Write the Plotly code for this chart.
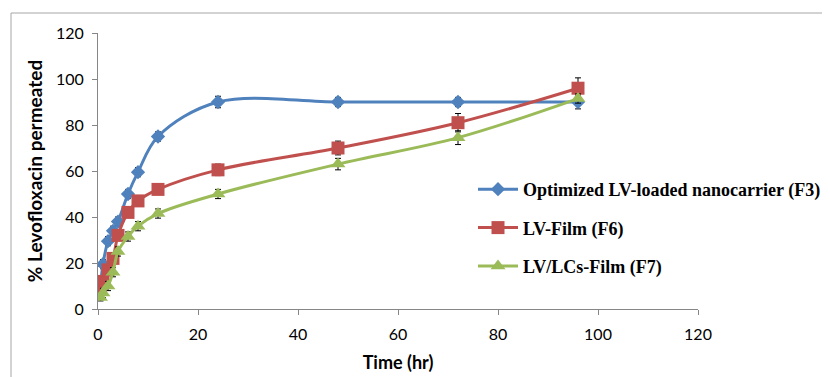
import plotly.graph_objects as go

time_hr = [0.5, 1, 2, 3, 4, 6, 8, 12, 24, 48, 72, 96]
f3_values = [10, 19.5, 29.5, 34, 38, 50, 59.5, 75, 90, 90, 90, 90]
f3_err = [2, 2, 2, 2, 2, 2, 2, 2, 2.5, 2, 2, 3]
f6_values = [9, 12, 17, 22, 32, 42, 47, 52, 60.5, 70, 81, 96]
f6_err = [2, 2, 2, 2, 2, 2, 2, 2, 2.5, 3, 4, 4.5]
f7_values = [5, 7, 10, 16, 25, 31.5, 36, 41.5, 50, 63, 74.5, 91.5]
f7_err = [1.5, 2, 2, 2, 2, 2, 2, 2, 2, 2.5, 3, 2]

series_names = ["Optimized LV-loaded nanocarrier (F3)", "LV-Film (F6)", "LV/LCs-Film (F7)"]
x_ticks = [0, 20, 40, 60, 80, 100, 120]
y_ticks = [0, 20, 40, 60, 80, 100, 120]

colors = ["#4F81BD", "#C0504D", "#9BBB59"]
symbols = ["diamond", "square", "triangle-up"]
sizes = [11, 13, 13]

fig = go.Figure()
for i, (vals, errs) in enumerate([(f3_values, f3_err), (f6_values, f6_err), (f7_values, f7_err)]):
    fig.add_trace(go.Scatter(
        x=time_hr, y=vals, name=series_names[i], mode="lines+markers",
        line=dict(color=colors[i], width=3, shape="spline", smoothing=1),
        marker=dict(symbol=symbols[i], size=sizes[i], color=colors[i]),
        error_y=dict(type="data", array=errs, visible=True, color="black", thickness=1, width=3),
        legendgroup=f"g{i}",
    ))

axis_common = dict(
    showgrid=False, zeroline=False, showline=True, linecolor="#868686", linewidth=1,
    ticks="outside", tickcolor="#868686", ticklen=5,
    tickfont=dict(family="Lato", size=16, color="black"),
)

fig.update_layout(
    width=830, height=377,
    margin=dict(l=90, r=140, t=25, b=76),
    paper_bgcolor="white", plot_bgcolor="white",
    xaxis=dict(range=[0, 120], tickvals=x_ticks, ticklabelstandoff=6, **axis_common,
               title=dict(text="<b>Time (hr)</b>", font=dict(family="Lato", size=18, color="black"), standoff=14)),
    yaxis=dict(range=[0, 120], tickvals=y_ticks, ticklabelstandoff=5, **axis_common,
               title=dict(text="<b>% Levofloxacin permeated</b>", font=dict(family="Lato", size=19, color="black"), standoff=8)),
    legend=dict(x=0.625, y=0.50, xanchor="left", yanchor="top",
                font=dict(family="Liberation Serif", size=18, color="black", weight="bold"),
                itemwidth=40, tracegroupgap=12, bgcolor="rgba(0,0,0,0)"),
    showlegend=True,
    shapes=[dict(type="rect", xref="paper", yref="paper",
                 x0=(11 - 98) / 600, x1=(827 - 98) / 600,
                 y0=(309 - 400) / 276, y1=(309 - 13) / 276,
                 line=dict(color="#A6A6A6", width=1), fillcolor="rgba(0,0,0,0)", layer="below")],
)

fig.write_html("out.html")
